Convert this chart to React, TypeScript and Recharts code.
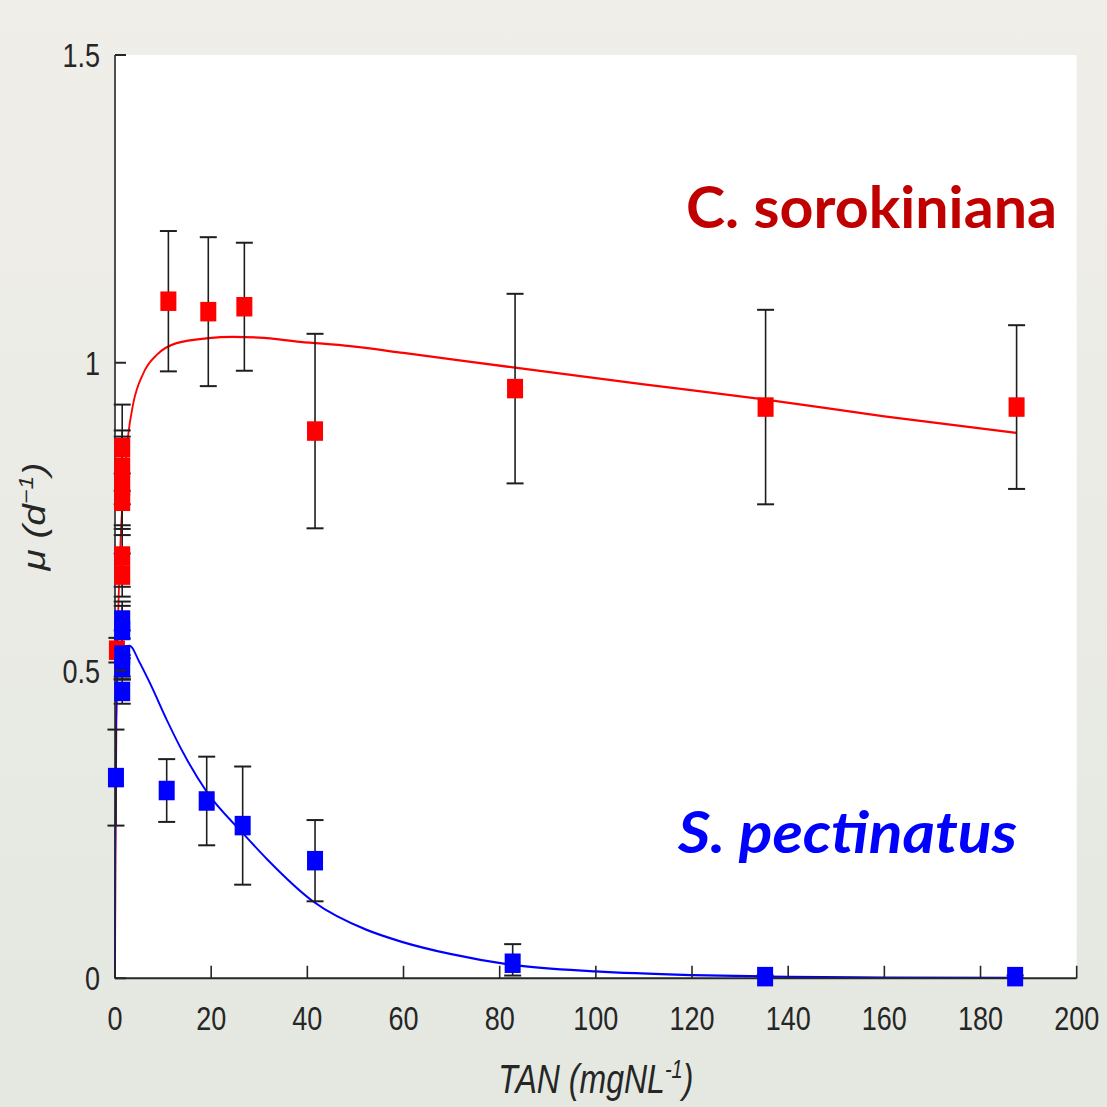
import React from 'react';
import { ComposedChart, XAxis, YAxis, Line, Scatter, ErrorBar, CartesianGrid, Label } from 'recharts';

// ---- data ----
const xTicks = [0, 20, 40, 60, 80, 100, 120, 140, 160, 180, 200];
const yTicks = [0, 0.5, 1, 1.5];

// C. sorokiniana measurements
const redX = [0.4, 1.5, 1.5, 1.5, 1.5, 1.5, 1.5, 11.1, 19.4, 26.9, 41.6, 83.2, 135.3, 187.5];
const redY = [0.533, 0.655, 0.686, 0.775, 0.8, 0.83, 0.862, 1.1, 1.083, 1.091, 0.889, 0.958, 0.928, 0.928];
const redErr = [0.02, 0.035, 0.05, 0.045, 0.08, 0.06, 0.07, 0.114, 0.121, 0.104, 0.158, 0.154, 0.158, 0.133];

// S. pectinatus measurements
const blueX = [0.2, 1.5, 1.5, 1.5, 1.5, 1.5, 10.75, 19.07, 26.55, 41.6, 82.7, 135.2, 187.2];
const blueY = [0.326, 0.466, 0.505, 0.525, 0.565, 0.582, 0.305, 0.288, 0.248, 0.191, 0.0244, 0.0026, 0.0026];
const blueErrLow = [0.078, 0.02, 0.015, 0.04, 0.04, 0.03, 0.051, 0.072, 0.096, 0.066, 0.02, 0.002, 0.002];
const blueErrHigh = [0.078, 0.02, 0.015, 0.04, 0.04, 0.03, 0.051, 0.072, 0.096, 0.066, 0.031, 0.002, 0.002];

// fitted curves
const redFitX = [0, 0.1, 0.3, 0.5, 0.8, 1.2, 1.6, 2.1, 2.7, 3.8, 5.9, 8.7, 12.8, 19.4, 24.5, 30, 38.5, 48.9, 60, 83.2, 110, 135.3, 160, 187.5];
const redFitY = [0, 0.2, 0.42, 0.53, 0.63, 0.72, 0.78, 0.83, 0.88, 0.934, 0.983, 1.013, 1.032, 1.04, 1.042, 1.041, 1.034, 1.027, 1.016, 0.992, 0.965, 0.94, 0.913, 0.886];
const blueFitX = [0, 0.05, 0.2, 0.5, 1, 2, 3.1, 5, 7.3, 10.75, 14.2, 19.07, 26.55, 31.55, 41.25, 52.35, 59.3, 69.7, 82.7, 100, 120, 140, 160, 187.5];
const blueFitY = [0, 0.2, 0.4, 0.49, 0.525, 0.539, 0.54, 0.515, 0.479, 0.42, 0.366, 0.303, 0.236, 0.194, 0.1245, 0.0785, 0.06, 0.0395, 0.0216, 0.011, 0.005, 0.0023, 0.001, 0.0005];

const redPts = redX.map((x, i) => ({ x, y: redY[i], e: redErr[i] }));
const bluePts = blueX.map((x, i) => ({ x, y: blueY[i], e: [blueErrLow[i], blueErrHigh[i]] }));
const redFit = redFitX.map((x, i) => ({ x, y: redFitY[i] }));
const blueFit = blueFitX.map((x, i) => ({ x, y: blueFitY[i] }));

// ---- styling ----
const STRETCH = 1.25;
const W = 1107;
const H = 1107 / STRETCH;
const AX = '#262626';
const FONT = '"Liberation Sans", Arial, Helvetica, sans-serif';
const X_MARGIN = 22;
const Y_MARGIN = 15;

const XTick = (props: any) => {
  const { x, y, payload } = props;
  const ay = y - X_MARGIN;
  return (
    <g>
      <line x1={x} x2={x} y1={ay} y2={ay - 10} stroke={AX} strokeWidth={1.6} />
      <text x={x} y={y} dy="0.71em" textAnchor="middle" fontSize={27} fontFamily={FONT} fill={AX}>
        {payload.value}
      </text>
    </g>
  );
};

const YTick = (props: any) => {
  const { x, y, payload } = props;
  const ax = x + Y_MARGIN;
  return (
    <g>
      <line x1={ax} x2={ax + 11} y1={y} y2={y} stroke={AX} strokeWidth={1.6} />
      <text x={x} y={y} dy="0.36em" textAnchor="end" fontSize={27} fontFamily={FONT} fill={AX}>
        {payload.value}
      </text>
    </g>
  );
};

const XLabel = (props: any) => {
  const { x, y, width } = props.viewBox;
  return (
    <text x={x + width / 2} y={y + 91.8} textAnchor="middle" fontSize={32} fontStyle="italic" fontFamily={FONT} fill={AX}>
      TAN (mgNL<tspan dy={-12} fontSize={20}>-1</tspan>
      <tspan dy={12}>)</tspan>
    </text>
  );
};

const YLabel = (props: any) => {
  const { y, height } = props.viewBox;
  const cx = 45;
  const cy = y + height / 2;
  return (
    <text x={cx} y={cy} transform={`rotate(-90, ${cx}, ${cy})`} textAnchor="middle" fontSize={31} fontStyle="italic" fontFamily={FONT} fill={AX}>
      μ (d<tspan dy={-12} fontSize={20}>−1</tspan>
      <tspan dy={12}>)</tspan>
    </text>
  );
};

const makeSquare = (color: string) => (props: any) => {
  const { cx, cy } = props;
  if (cx == null || cy == null) return null;
  return <rect x={cx - 8} y={cy - 7.8} width={16} height={15.6} fill={color} />;
};

export default function App() {
  return (
    <div
      style={{
        position: 'absolute',
        left: 0,
        top: 0,
        width: W,
        height: 1107,
        background: 'linear-gradient(180deg, #f0eee8 0%, #eaebe5 50%, #e4e8e1 100%)',
        overflow: 'hidden',
      }}
    >
      <div style={{ position: 'absolute', left: 0, top: 0, width: W, height: H, transform: `scaleY(${STRETCH})`, transformOrigin: '0 0' }}>
        <ComposedChart width={W} height={H} margin={{ top: 44, right: 30.3, bottom: 0, left: 0 }}>
          <CartesianGrid fill="#ffffff" fillOpacity={1} stroke="none" horizontal={false} vertical={false} />
          <XAxis
            type="number"
            dataKey="x"
            domain={[0, 200]}
            ticks={xTicks}
            interval={0}
            height={103}
            tickSize={0}
            tickMargin={X_MARGIN}
            tickLine={false}
            axisLine={{ stroke: AX, strokeWidth: 1.6 }}
            tick={<XTick />}
          >
            <Label content={<XLabel />} />
          </XAxis>
          <YAxis
            type="number"
            domain={[0, 1.5]}
            ticks={yTicks}
            interval={0}
            width={115}
            tickSize={0}
            tickMargin={Y_MARGIN}
            tickLine={false}
            axisLine={{ stroke: AX, strokeWidth: 1.6 }}
            tick={<YTick />}
          >
            <Label content={<YLabel />} />
          </YAxis>
          <Line data={redFit} dataKey="y" type="monotone" stroke="#ff0000" strokeWidth={1.8} dot={false} activeDot={false} isAnimationActive={false} />
          <Line data={blueFit} dataKey="y" type="monotone" stroke="#0000ff" strokeWidth={1.8} dot={false} activeDot={false} isAnimationActive={false} />
          <Scatter data={redPts} dataKey="y" fill="#ff0000" shape={makeSquare('#ff0000')} isAnimationActive={false}>
            <ErrorBar dataKey="e" direction="y" width={8.5} stroke="#1e1e1e" strokeWidth={1.6} />
          </Scatter>
          <Scatter data={bluePts} dataKey="y" fill="#0000ff" shape={makeSquare('#0000ff')} isAnimationActive={false}>
            <ErrorBar dataKey="e" direction="y" width={8.5} stroke="#1e1e1e" strokeWidth={1.6} />
          </Scatter>
        </ComposedChart>
      </div>
      <svg width={W} height={1107} style={{ position: 'absolute', left: 0, top: 0, pointerEvents: 'none' }}>
        <text x={686} y={228} fontSize={57} fontWeight="bold" fontFamily="Lato, 'Open Sans', sans-serif" fill="#c00000" textLength={371} lengthAdjust="spacingAndGlyphs">
          C. sorokiniana
        </text>
        <text x={678} y={853} fontSize={57} fontWeight="bold" fontStyle="italic" fontFamily="Lato, 'Open Sans', sans-serif" fill="#0000ff" textLength={339} lengthAdjust="spacingAndGlyphs">
          S. pectinatus
        </text>
      </svg>
    </div>
  );
}
